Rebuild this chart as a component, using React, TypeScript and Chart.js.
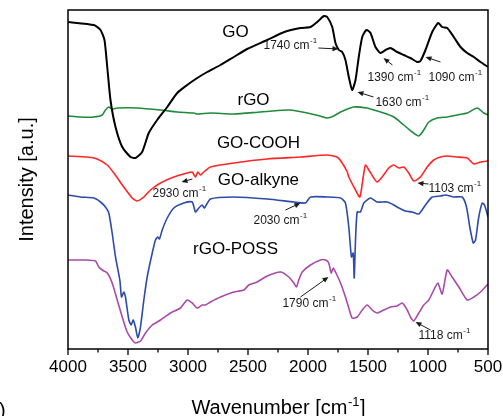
import React, { useEffect, useRef } from "react";
import { Chart, registerables } from "chart.js";

Chart.register(...registerables);

// Wavenumber [cm-1] vs. relative intensity (offset stacked spectra)
const GO: [number, number][] = [
  [4000, 326], [3785, 323], [3729, 318], [3696, 308], [3673, 281], [3646, 248], [3604, 221], [3548, 201],
  [3479, 191], [3437, 190], [3382, 196], [3327, 215], [3257, 228], [3173, 241], [3090, 255], [3007, 263],
  [2923, 270], [2840, 276], [2729, 283], [2618, 291], [2507, 299], [2340, 308], [2198, 316], [2063, 320],
  [1979, 321], [1923, 326], [1868, 332], [1840, 331], [1798, 321], [1771, 305], [1743, 298], [1715, 296],
  [1688, 288], [1660, 271], [1632, 258], [1604, 268], [1577, 291], [1548, 311], [1513, 318], [1479, 315],
  [1438, 301], [1396, 295], [1354, 298], [1313, 300], [1257, 296], [1202, 293], [1146, 290], [1090, 286],
  [1063, 287], [1021, 298], [965, 316], [915, 325], [882, 321], [840, 320], [785, 311], [729, 301],
  [673, 295], [618, 291], [562, 286], [500, 281],
];

const RGO: [number, number][] = [
  [4000, 232], [3896, 231], [3785, 231], [3715, 233], [3688, 238], [3660, 241], [3632, 239], [3590, 240],
  [3423, 240], [3229, 238], [3090, 236], [2952, 235], [2923, 234], [2813, 235], [2618, 234], [2396, 236],
  [2146, 238], [2007, 235], [1900, 232], [1840, 230], [1785, 232], [1729, 236], [1618, 241], [1507, 240],
  [1452, 238], [1368, 235], [1285, 231], [1202, 223], [1132, 216], [1077, 212], [1035, 218], [993, 226],
  [923, 230], [840, 231], [757, 233], [673, 235], [590, 240], [535, 235], [500, 233],
];

const GO_COOH: [number, number][] = [
  [4000, 192], [3840, 191], [3757, 189], [3673, 183], [3618, 175], [3535, 161], [3465, 150], [3423, 147],
  [3368, 151], [3313, 158], [3229, 165], [3118, 171], [3007, 175], [2965, 176], [2938, 171], [2918, 176],
  [2896, 173], [2868, 176], [2813, 181], [2618, 185], [2340, 189], [2063, 191], [1840, 193], [1757, 191],
  [1715, 185], [1673, 176], [1660, 171], [1604, 158], [1568, 151], [1540, 171], [1521, 183], [1493, 178],
  [1452, 170], [1424, 166], [1382, 171], [1327, 180], [1285, 183], [1243, 180], [1202, 181], [1160, 175],
  [1118, 167], [1063, 171], [1007, 181], [952, 188], [896, 191], [840, 192], [757, 191], [673, 190],
  [618, 184], [562, 186], [500, 187],
];

const GO_ALKYNE: [number, number][] = [
  [4000, 153], [3896, 151], [3785, 150], [3729, 146], [3688, 141], [3660, 135], [3632, 115], [3604, 91],
  [3568, 68], [3554, 51], [3535, 56], [3521, 51], [3493, 28], [3473, 23], [3457, 28], [3438, 21],
  [3418, 10], [3396, 21], [3368, 48], [3340, 71], [3298, 95], [3271, 108], [3252, 111], [3238, 109],
  [3215, 118], [3173, 130], [3118, 140], [3035, 145], [2965, 146], [2938, 136], [2910, 140], [2882, 143],
  [2863, 140], [2813, 149], [2618, 151], [2340, 149], [2118, 146], [2021, 145], [1979, 151], [1840, 151],
  [1729, 150], [1688, 145], [1660, 121], [1638, 91], [1623, 95], [1615, 70], [1604, 108], [1590, 136],
  [1563, 136], [1535, 145], [1479, 150], [1424, 146], [1340, 146], [1285, 143], [1243, 140], [1188, 137],
  [1132, 136], [1077, 134], [1021, 143], [965, 151], [896, 152], [854, 153], [785, 151], [715, 151],
  [679, 141], [652, 121], [623, 105], [604, 108], [577, 131], [548, 145], [529, 143], [500, 131],
];

const RGO_POSS: [number, number][] = [
  [4000, 88], [3868, 88], [3771, 87], [3743, 81], [3715, 78], [3673, 75], [3632, 65], [3590, 48],
  [3548, 31], [3507, 16], [3465, 8], [3438, 5], [3396, 7], [3354, 15], [3298, 23], [3229, 28],
  [3146, 35], [3063, 40], [3007, 48], [2965, 45], [2923, 40], [2882, 43], [2854, 43], [2813, 46],
  [2729, 51], [2618, 56], [2535, 58], [2493, 63], [2423, 66], [2340, 72], [2229, 76], [2160, 71],
  [2118, 65], [2096, 61], [2077, 68], [2048, 76], [1979, 83], [1896, 88], [1854, 88], [1827, 85],
  [1807, 75], [1790, 80], [1771, 76], [1729, 65], [1688, 51], [1660, 40], [1632, 30], [1590, 31],
  [1548, 38], [1507, 43], [1465, 38], [1424, 35], [1368, 38], [1313, 41], [1257, 42], [1215, 45],
  [1173, 38], [1146, 31], [1118, 27], [1077, 35], [1035, 43], [993, 48], [952, 58], [918, 65],
  [882, 54], [840, 78], [799, 71], [743, 61], [673, 48], [618, 51], [562, 56], [500, 64],
];

const SERIES_NAMES = ["GO", "rGO", "GO-COOH", "GO-alkyne", "rGO-POSS"];
const SERIES_COLORS = ["#000000", "#1f8a3b", "#ff2626", "#2d4bab", "#a84ba8"];
// label anchor (wavenumber, intensity) for each series name
const NAME_ANCHORS: [number, number][] = [
  [2604, 316], [2454, 248], [2413, 205], [2413, 168], [2604, 99],
];

// peak annotations: label, text anchor (left, middle), arrow tail, arrow head
const PEAK_LABELS = ["1740", "1630", "1390", "1090", "2930", "1103", "2030", "1790", "1118"];
const PEAK_TEXT_AT: [number, number][] = [
  [2371, 303], [1438, 246], [1504, 271], [996, 271], [3296, 155], [996, 160], [2454, 128], [2213, 45], [1079, 13],
];
const PEAK_ARROW_FROM: [number, number][] = [
  [1913, 300], [1454, 251], [1296, 283], [896, 286], [2963, 169], [996, 164], [2188, 138], [2063, 51], [979, 18],
];
const PEAK_ARROW_TO: [number, number][] = [
  [1746, 299], [1588, 256], [1371, 290], [1021, 291], [3054, 166], [1088, 165], [2063, 145], [1829, 71], [1104, 26],
];

const X_MIN = 500;
const X_MAX = 4000;
const X_STEP = 500;
const X_MINOR = 250;

const FONT = 'Arial, "Liberation Sans", sans-serif';

function drawWithSup(
  ctx: CanvasRenderingContext2D,
  base: string,
  sup: string,
  tail: string,
  x: number,
  y: number,
  size: number,
  supSize: number,
  align: "left" | "center"
) {
  ctx.font = `${size}px ${FONT}`;
  const w1 = ctx.measureText(base).width;
  const w3 = ctx.measureText(tail).width;
  ctx.font = `${supSize}px ${FONT}`;
  const w2 = ctx.measureText(sup).width;
  const total = w1 + w2 + w3;
  let sx = align === "center" ? x - total / 2 : x;
  ctx.textAlign = "left";
  ctx.font = `${size}px ${FONT}`;
  ctx.fillText(base, sx, y);
  ctx.font = `${supSize}px ${FONT}`;
  ctx.fillText(sup, sx + w1 + 0.5, y - size * 0.42);
  ctx.font = `${size}px ${FONT}`;
  ctx.fillText(tail, sx + w1 + w2 + 1, y);
}

const decorPlugin = {
  id: "decor",
  afterDraw(chart: any) {
    const { ctx, chartArea, scales } = chart;
    const { left, right, top, bottom } = chartArea;
    const xs = scales.x;
    const ys = scales.y;
    ctx.save();
    ctx.strokeStyle = "#000";
    ctx.fillStyle = "#000";
    ctx.lineWidth = 1.5;
    ctx.strokeRect(left, top, right - left, bottom - top);

    // tick marks (major + minor, outward)
    ctx.lineWidth = 1.3;
    for (let w = X_MIN; w <= X_MAX; w += X_MINOR) {
      const px = xs.getPixelForValue(w);
      const major = w % X_STEP === 0;
      ctx.beginPath();
      ctx.moveTo(px, bottom);
      ctx.lineTo(px, bottom + (major ? 6 : 3.5));
      ctx.stroke();
    }

    // axis titles
    ctx.textBaseline = "alphabetic";
    drawWithSup(ctx, "Wavenumber [cm", "-1", "]", (left + right) / 2, 414, 20, 13, "center");
    ctx.save();
    ctx.translate(33, (top + bottom) / 2);
    ctx.rotate(-Math.PI / 2);
    ctx.textAlign = "center";
    ctx.font = `20px ${FONT}`;
    ctx.fillText("Intensity [a.u.]", 0, 0);
    ctx.restore();
    ctx.textAlign = "left";
    ctx.font = `20px ${FONT}`;
    ctx.fillText(")", -1, 417);

    // series names
    ctx.textBaseline = "middle";
    ctx.textAlign = "center";
    ctx.font = `17px ${FONT}`;
    SERIES_NAMES.forEach((name, i) => {
      const [wx, wy] = NAME_ANCHORS[i];
      ctx.fillText(name, xs.getPixelForValue(wx), ys.getPixelForValue(wy));
    });

    // peak annotations
    ctx.fillStyle = "#1a1a1a";
    ctx.strokeStyle = "#1a1a1a";
    ctx.lineWidth = 1;
    PEAK_LABELS.forEach((lab, i) => {
      const tx = xs.getPixelForValue(PEAK_TEXT_AT[i][0]);
      const ty = ys.getPixelForValue(PEAK_TEXT_AT[i][1]);
      ctx.textBaseline = "middle";
      drawWithSup(ctx, lab + " cm", "-1", "", tx, ty + 1, 12, 8, "left");
      const ax = xs.getPixelForValue(PEAK_ARROW_FROM[i][0]);
      const ay = ys.getPixelForValue(PEAK_ARROW_FROM[i][1]);
      const bx = xs.getPixelForValue(PEAK_ARROW_TO[i][0]);
      const by = ys.getPixelForValue(PEAK_ARROW_TO[i][1]);
      const ang = Math.atan2(by - ay, bx - ax);
      const hl = 6;
      const hw = 2.6;
      ctx.beginPath();
      ctx.moveTo(ax, ay);
      ctx.lineTo(bx - Math.cos(ang) * hl * 0.7, by - Math.sin(ang) * hl * 0.7);
      ctx.stroke();
      ctx.beginPath();
      ctx.moveTo(bx, by);
      ctx.lineTo(bx - Math.cos(ang) * hl - Math.sin(ang) * hw, by - Math.sin(ang) * hl + Math.cos(ang) * hw);
      ctx.lineTo(bx - Math.cos(ang) * hl + Math.sin(ang) * hw, by - Math.sin(ang) * hl - Math.cos(ang) * hw);
      ctx.closePath();
      ctx.fill();
    });
    ctx.restore();
  },
};

export default function App() {
  const canvasRef = useRef<HTMLCanvasElement | null>(null);

  useEffect(() => {
    if (!canvasRef.current) return;
    const series = [GO, RGO, GO_COOH, GO_ALKYNE, RGO_POSS];
    const chart = new Chart(canvasRef.current, {
      type: "line",
      data: {
        datasets: series.map((s, i) => ({
          label: SERIES_NAMES[i],
          data: s.map(([x, y]) => ({ x, y })),
          borderColor: SERIES_COLORS[i],
          backgroundColor: SERIES_COLORS[i],
          borderWidth: i === 0 ? 2 : 1.6,
          pointRadius: 0,
          tension: 0.2,
          fill: false,
        })),
      },
      options: {
        responsive: false,
        maintainAspectRatio: false,
        devicePixelRatio: 1,
        animation: false,
        layout: { padding: { left: 68, right: 15, top: 10, bottom: 0 } },
        plugins: { legend: { display: false }, tooltip: { enabled: false } },
        scales: {
          x: {
            type: "linear",
            reverse: true,
            min: X_MIN,
            max: X_MAX,
            grid: { display: false, drawTicks: false },
            border: { display: false },
            ticks: {
              stepSize: X_STEP,
              color: "#000",
              padding: 8,
              font: { size: 17, family: FONT },
              maxRotation: 0,
              autoSkip: false,
              callback: (v: any) => String(v),
            },
            afterFit: (scale: any) => {
              scale.height = 67;
              scale.paddingLeft = 0;
              scale.paddingRight = 0;
            },
          },
          y: {
            display: false,
            min: -1,
            max: 338,
          },
        },
      },
      plugins: [decorPlugin],
    });
    return () => chart.destroy();
  }, []);

  return (
    <div style={{ position: "fixed", left: 0, top: 0, width: 503, height: 416, background: "#fff" }}>
      <canvas ref={canvasRef} width={503} height={416} style={{ display: "block" }} />
    </div>
  );
}
